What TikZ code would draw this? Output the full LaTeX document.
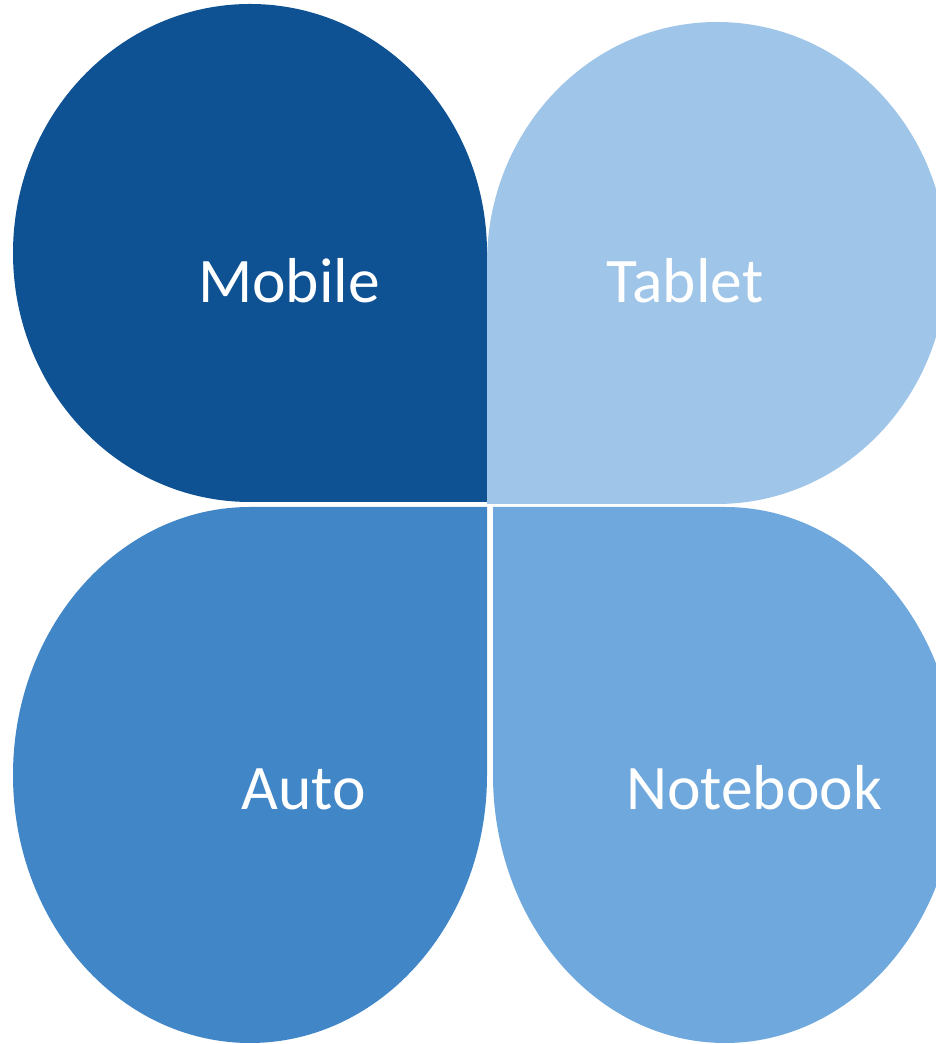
\documentclass[tikz,border=0pt]{standalone}
\usepackage{fontspec}
\setmainfont{Carlito}
\definecolor{petalA}{HTML}{0E5294}
\definecolor{petalB}{HTML}{9FC5E8}
\definecolor{petalC}{HTML}{4186C7}
\definecolor{petalD}{HTML}{6FA8DC}
\begin{document}
\begin{tikzpicture}[x=1pt,y=1pt,
  petal/.style={draw=none},
  label/.style={text=white,font=\fontsize{63.5}{70}\selectfont,anchor=base,inner sep=0pt}]
\useasboundingbox (0,0) rectangle (936,1044);
\clip (0,0) rectangle (936,1044);
% top left petal, square corner at bottom right
\fill[petal,petalA] (487,542) -- (250,542)
  arc[start angle=270,end angle=0,x radius=237,y radius=249] -- cycle;
% top right petal, square corner at bottom left
\fill[petal,petalB] (487,540) -- (487,781)
  arc[start angle=180,end angle=-90,x radius=230,y radius=241] -- cycle;
% bottom left petal, square corner at top right
\fill[petal,petalC] (487,537) -- (487,269)
  arc[start angle=0,end angle=-270,x radius=237,y radius=268] -- cycle;
% bottom right petal, square corner at top left
\fill[petal,petalD] (493,537) -- (725,537)
  arc[start angle=90,end angle=-180,x radius=232,y radius=268] -- cycle;
\node[label] (mobile) at (289,741) {Mobile};
\node[label] (tablet) at (685,741) {Tablet};
\node[label] (auto) at (304,234) {Auto};
\node[label] (notebook) at (754,234) {Notebook};
\end{tikzpicture}
\end{document}
